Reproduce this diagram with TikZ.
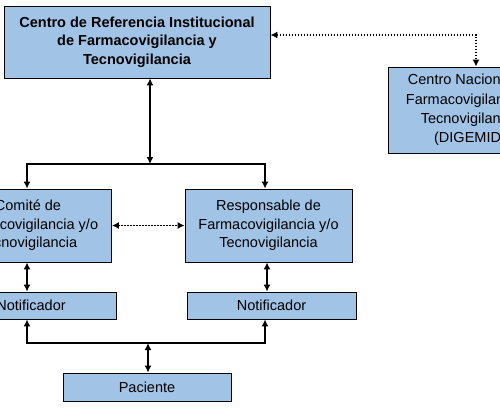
\documentclass[tikz,border=0pt]{standalone}
\usepackage{fontspec}
\setmainfont{Liberation Sans}
\usepackage{tikz}
\usetikzlibrary{arrows.meta}
\definecolor{boxblue}{RGB}{160,195,230}

\begin{document}
\begin{tikzpicture}[x=1pt,y=-1pt,
    box/.style={draw=black,line width=0.8pt,fill=boxblue,align=center,
        inner sep=0pt,font=\fontsize{14.5}{18.5}\selectfont},
    conn/.style={line width=2pt,>={Latex[length=7pt,width=7pt]}},
    dots/.style={line width=1.6pt,dash pattern=on 1.6pt off 1.4pt,
        >={Latex[length=7pt,width=7pt]}}]
    \useasboundingbox (0,0) rectangle (500,407);
    \clip (0,0) rectangle (500,407);
    \fill[white] (0,0) rectangle (500,407);
    % boxes
    \node[box,minimum width=266pt,minimum height=72pt,font=\bfseries\fontsize{14.5}{18.5}\selectfont]
        (cref) at (137,42) {Centro de Referencia Institucional\\de Farmacovigilancia y\\Tecnovigilancia};
    \node[box,minimum width=164pt,minimum height=86pt,font=\fontsize{14.5}{19.2}\selectfont]
        (cnac) at (470,110) {Centro Nacional de\\Farmacovigilancia y\\Tecnovigilancia\\(DIGEMID)};
    \node[box,minimum width=167pt,minimum height=73pt]
        (com) at (28,225.5) {Comité de\\Farmacovigilancia y/o\\Tecnovigilancia};
    \node[box,minimum width=167pt,minimum height=73pt]
        (res) at (268.5,225.5) {Responsable de\\Farmacovigilancia y/o\\Tecnovigilancia};
    \node[box,minimum width=170pt,minimum height=27pt]
        (notl) at (31,305.5) {Notificador};
    \node[box,minimum width=169pt,minimum height=27pt]
        (notr) at (271.5,305.5) {Notificador};
    \node[box,minimum width=168pt,minimum height=28pt]
        (pac) at (147,387) {Paciente};
    \coordinate (jt) at (150,164);
    \coordinate (jb) at (148,343);
    % connectors
    \draw[dots,<->] ([yshift=7pt]cref.east) -| ([xshift=6pt]cnac.north);
    \draw[conn,<->] ([xshift=13pt]cref.south) -- (jt);
    \draw[conn,->] (jt) -| ([xshift=-1pt]com.north);
    \draw[conn,->] (jt) -| ([xshift=-3.5pt]res.north);
    \draw[dots,<->] (com.east) -- (res.west);
    \draw[conn,<->] ([xshift=-1pt]com.south) -- ([xshift=-1pt]com.south |- notl.north);
    \draw[conn,<->] ([xshift=-1.5pt]res.south) -- ([xshift=-1.5pt]res.south |- notr.north);
    \draw[conn,->] (jb) -| ([xshift=-4pt]notl.south);
    \draw[conn,->] (jb) -| ([xshift=-6.5pt]notr.south);
    \draw[conn,<->] (jb) -- (jb |- pac.north);
\end{tikzpicture}
\end{document}
